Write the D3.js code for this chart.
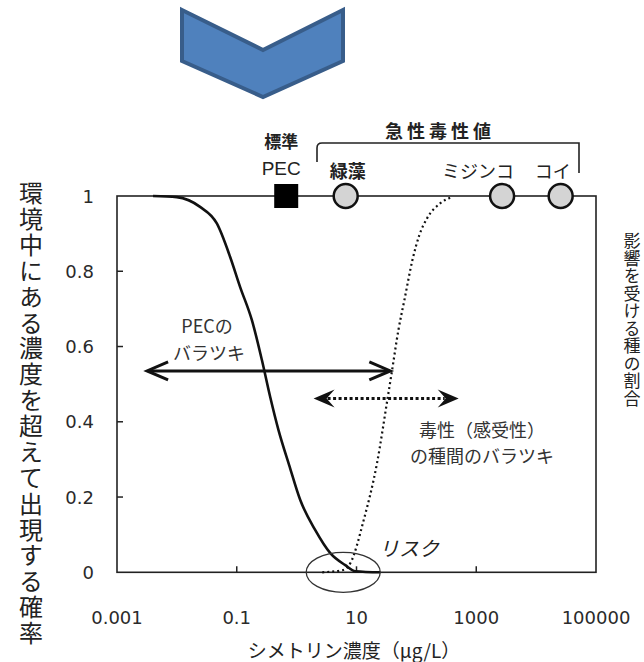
<!DOCTYPE html>
<html><head><meta charset="utf-8">
<script src="https://cdn.jsdelivr.net/npm/d3@7"></script>
<style>html,body{margin:0;padding:0;background:#fff;}</style>
</head><body>
<script>
// ---- data ----
const xTicks = [0.001, 0.1, 10, 1000, 100000];
const xTickLabels = ["0.001", "0.1", "10", "1000", "100000"];
const yTicks = [0, 0.2, 0.4, 0.6, 0.8, 1];
const yTickLabels = ["0", "0.2", "0.4", "0.6", "0.8", "1"];
// PEC exceedance curve (solid)
const pecX = [0.004, 0.00995, 0.0244, 0.0465, 0.0776, 0.114, 0.179, 0.263, 0.362, 0.498, 0.75, 1.15, 2.05, 3.65, 6.5, 9.55, 25];
const pecY = [1.0, 0.997, 0.971, 0.927, 0.838, 0.758, 0.670, 0.564, 0.466, 0.378, 0.285, 0.192, 0.112, 0.051, 0.019, 0.003, 0];
// species sensitivity curve (dotted)
const ssdX = [2.68, 6.01, 7.87, 13.2, 22.0, 33.1, 39.3, 50.0, 63.0, 85.7, 112, 151, 252, 400];
const ssdY = [0, 0.006, 0.024, 0.139, 0.290, 0.463, 0.537, 0.643, 0.723, 0.829, 0.896, 0.941, 0.981, 0.998];
// markers on top axis
const pecStd = {label: "PEC", value: 0.67};
const toxNames = ["緑藻", "ミジンコ", "コイ"];
const toxValues = [6.6, 2700, 25700];
const yTitleLeft = "環境中にある濃度を超えて出現する確率";
const yTitleRight = "影響を受ける種の割合";

const W = 644, H = 662;
const svg = d3.select("body").append("svg").attr("width", W).attr("height", H)
  .style("font-family", "'DejaVu Sans', sans-serif");

const x = d3.scaleLog().domain([0.001, 100000]).range([117, 596]);
const y = d3.scaleLinear().domain([0, 1]).range([572.3, 196]);
const jp = "'Noto Sans CJK JP', sans-serif";

// chevron (decorative)
svg.append("polygon")
  .attr("points", "182,10 263,50 343,10 343,61 263,97 182,61")
  .attr("fill", "#4F81BD").attr("stroke", "#385D8A").attr("stroke-width", 4)
  .attr("stroke-linejoin", "miter");

// frame
const g = svg.append("g");
g.append("rect").attr("x", x(0.001)).attr("y", y(1))
  .attr("width", x(100000) - x(0.001)).attr("height", y(0) - y(1))
  .attr("fill", "none").attr("stroke", "#222").attr("stroke-width", 1.6);

// y ticks (inward)
yTicks.forEach((t, i) => {
  if (t > 0 && t < 1) g.append("line").attr("x1", x(0.001)).attr("x2", x(0.001) + 6)
    .attr("y1", y(t)).attr("y2", y(t)).attr("stroke", "#222").attr("stroke-width", 1.5);
  g.append("text").attr("x", 94).attr("y", y(t)).attr("text-anchor", "end")
    .attr("dominant-baseline", "central").attr("font-size", 18).attr("fill", "#2a2a2a")
    .text(yTickLabels[i]);
});
// x ticks (inward)
xTicks.forEach((t, i) => {
  if (i > 0 && i < xTicks.length - 1) g.append("line").attr("x1", x(t)).attr("x2", x(t))
    .attr("y1", y(0)).attr("y2", y(0) - 6).attr("stroke", "#222").attr("stroke-width", 1.5);
  g.append("text").attr("x", x(t)).attr("y", 617).attr("text-anchor", "middle")
    .attr("dominant-baseline", "central").attr("font-size", 18).attr("fill", "#2a2a2a")
    .text(xTickLabels[i]);
});

// axis titles
svg.append("text").attr("x", 354).attr("y", 649).attr("text-anchor", "middle")
  .attr("dominant-baseline", "central").attr("font-family", jp).attr("font-size", 19)
  .attr("fill", "#222").text("シメトリン濃度（μg/L）");
svg.append("text").attr("x", 31).attr("y", 181)
  .style("writing-mode", "vertical-rl").style("text-orientation", "upright")
  .attr("font-family", jp).attr("font-size", 24)
  .attr("textLength", 464).attr("lengthAdjust", "spacing")
  .attr("fill", "#222").text(yTitleLeft);
svg.append("text").attr("x", 632).attr("y", 232)
  .style("writing-mode", "vertical-rl").style("text-orientation", "upright")
  .attr("font-family", jp).attr("font-size", 17)
  .attr("textLength", 175).attr("lengthAdjust", "spacing")
  .attr("fill", "#222").text(yTitleRight);

// curves
const line = d3.line().x(d => x(d[0])).y(d => y(d[1])).curve(d3.curveMonotoneX);
g.append("path").datum(pecX.map((v, i) => [v, pecY[i]])).attr("d", line)
  .attr("fill", "none").attr("stroke", "#111").attr("stroke-width", 2.6);
g.append("path").datum(ssdX.map((v, i) => [v, ssdY[i]])).attr("d", line)
  .attr("fill", "none").attr("stroke", "#111").attr("stroke-width", 2.2)
  .attr("stroke-dasharray", "2,3");

// risk ellipse
g.append("ellipse").attr("cx", x(6.0)).attr("cy", y(0)).attr("rx", 37).attr("ry", 20)
  .attr("fill", "none").attr("stroke", "#333").attr("stroke-width", 1.3);
svg.append("text").attr("x", 409).attr("y", 547).attr("text-anchor", "middle")
  .attr("dominant-baseline", "central").attr("font-family", jp).attr("font-size", 20)
  .attr("font-style", "italic").attr("fill", "#222").text("リスク");

// arrows
function head(xTip, yv, dir, filled) {
  const tx = xTip, ty = y(yv);
  if (filled) {
    g.append("path").attr("d", `M${tx},${ty} L${tx - dir * 21},${ty - 9} L${tx - dir * 13},${ty} L${tx - dir * 21},${ty + 9} Z`)
      .attr("fill", "#111");
  } else {
    g.append("path").attr("d", `M${tx - dir * 21},${ty - 9} L${tx},${ty} L${tx - dir * 21},${ty + 9}`)
      .attr("fill", "none").attr("stroke", "#111").attr("stroke-width", 3);
  }
}
const pecArrow = {x0: 0.00318, x1: 36.7, y: 0.535};
g.append("line").attr("x1", x(pecArrow.x0) + 2).attr("x2", x(pecArrow.x1) - 2)
  .attr("y1", y(pecArrow.y)).attr("y2", y(pecArrow.y)).attr("stroke", "#111").attr("stroke-width", 3);
head(x(pecArrow.x0), pecArrow.y, -1, false);
head(x(pecArrow.x1), pecArrow.y, 1, false);
const ssdArrow = {x0: 1.92, x1: 509, y: 0.462};
g.append("line").attr("x1", x(ssdArrow.x0) + 14).attr("x2", x(ssdArrow.x1) - 14)
  .attr("y1", y(ssdArrow.y)).attr("y2", y(ssdArrow.y)).attr("stroke", "#111").attr("stroke-width", 3)
  .attr("stroke-dasharray", "3,2.5");
head(x(ssdArrow.x0), ssdArrow.y, -1, true);
head(x(ssdArrow.x1), ssdArrow.y, 1, true);

// annotation texts
const ann = svg.append("g").attr("font-family", jp).attr("fill", "#333").attr("text-anchor", "middle")
  .attr("dominant-baseline", "central").attr("font-size", 18);
ann.append("text").attr("x", 207).attr("y", 325).text("PECの");
ann.append("text").attr("x", 209).attr("y", 352).text("バラツキ");
ann.append("text").attr("x", 482).attr("y", 429).text("毒性（感受性）");
ann.append("text").attr("x", 482).attr("y", 455).text("の種間のバラツキ");

// top markers
g.append("rect").attr("x", x(pecStd.value) - 12).attr("y", y(1) - 12).attr("width", 24).attr("height", 24)
  .attr("fill", "#000");
toxValues.forEach(v => {
  g.append("circle").attr("cx", x(v)).attr("cy", y(1)).attr("r", 12)
    .attr("fill", "#d4d4d4").attr("stroke", "#111").attr("stroke-width", 2.5);
});

// top labels
const topLbl = svg.append("g").attr("text-anchor", "middle").attr("dominant-baseline", "central").attr("fill", "#222");
topLbl.append("text").attr("x", x(pecStd.value) - 5).attr("y", 140).attr("font-family", jp)
  .attr("font-size", 17).attr("font-weight", "bold").text("標準");
topLbl.append("text").attr("x", x(pecStd.value) - 5).attr("y", 168).attr("font-family", "'Liberation Sans', sans-serif")
  .attr("font-size", 19).text(pecStd.label);
const toxLabelDx = [2, -24, -8];
toxNames.forEach((n, i) => {
  topLbl.append("text").attr("x", x(toxValues[i]) + toxLabelDx[i]).attr("y", 170).attr("font-family", jp)
    .attr("font-size", 18).attr("font-weight", i === 0 ? "bold" : "normal").text(n);
});
topLbl.append("text").attr("x", 440).attr("y", 130).attr("font-family", jp)
  .attr("font-size", 18).attr("font-weight", "bold").attr("letter-spacing", 4).text("急性毒性値");
// bracket
svg.append("path").attr("d", "M317,162 L317,148 Q317,143 322,143 L579,143 L579,173")
  .attr("fill", "none").attr("stroke", "#222").attr("stroke-width", 1.6);
</script>
</body></html>
